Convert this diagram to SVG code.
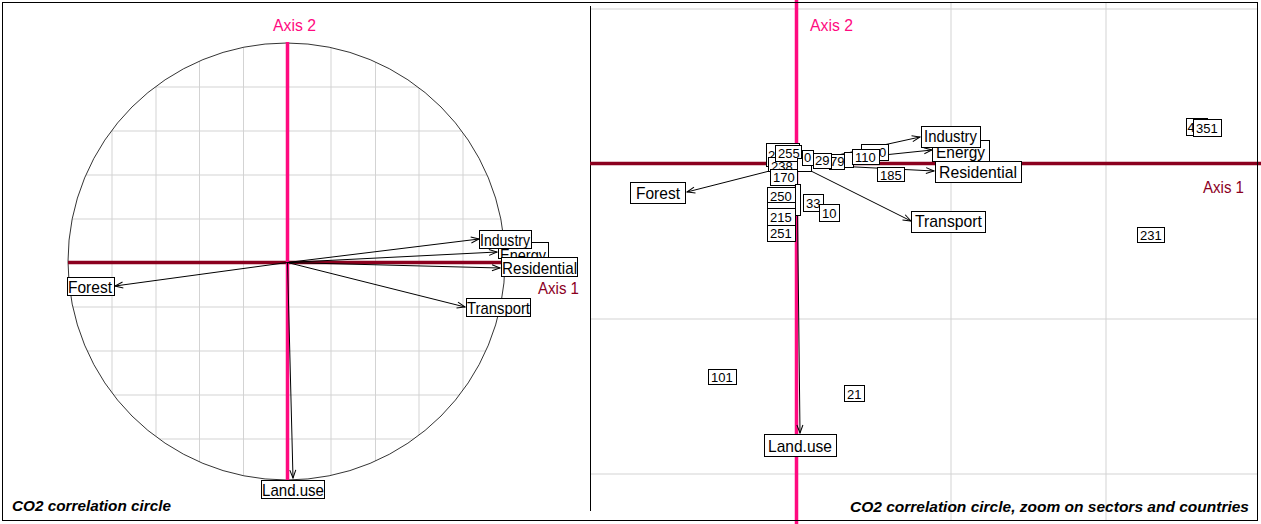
<svg xmlns="http://www.w3.org/2000/svg" width="1261" height="524" viewBox="0 0 1261 524">
<style>
.grid{stroke:#D3D3D3;stroke-width:1;fill:none}
.ax1{stroke:#8B001E;stroke-width:3.5}
.ax2{stroke:#FF0A80;stroke-width:3.5}
.arr{stroke:#000;stroke-width:1;fill:none;marker-end:url(#ah)}
.box{fill:#fff;stroke:#000;stroke-width:1}
.lab{font-family:"Liberation Sans",Arial,sans-serif;font-size:17px;fill:#000}
.num{font-family:"Liberation Sans",Arial,sans-serif;font-size:13px;fill:#000}
.t1{font-family:"Liberation Sans",Arial,sans-serif;font-size:17px;fill:#8B001E}
.t2{font-family:"Liberation Sans",Arial,sans-serif;font-size:17px;fill:#FF0A80}
.title{font-family:"Liberation Sans",Arial,sans-serif;font-size:15px;font-weight:bold;font-style:italic;fill:#000}
</style>
<defs>
<marker id="ah" markerUnits="userSpaceOnUse" markerWidth="12" markerHeight="10" refX="8" refY="3" orient="auto" overflow="visible">
<path d="M0,0 L8,3 L0,6" fill="none" stroke="#000" stroke-width="1"/>
</marker>
<clipPath id="cc"><circle cx="286.5" cy="261.5" r="218.5"/></clipPath>
</defs>
<rect x="0" y="0" width="1261" height="524" fill="#fff"/>

<!-- LEFT PANEL -->
<g id="left-grid" class="grid" clip-path="url(#cc)">
<path d="M112,0V524M156,0V524M199.5,0V524M243.5,0V524M331,0V524M375.5,0V524M419,0V524M463,0V524"/>
<path d="M0,87H600M0,131H600M0,175H600M0,219H600M0,307H600M0,351H600M0,395H600M0,439H600"/>
</g>
<circle id="left-circle" cx="286.5" cy="261.5" r="218.5" fill="none" stroke="#000" stroke-width="0.8"/>
<g id="left-axes">
<line class="ax1" x1="68" y1="262.5" x2="502" y2="262.5"/>
<line class="ax2" x1="287.5" y1="42" x2="287.5" y2="481"/>
<text class="t2" x="273" y="31" textLength="43" lengthAdjust="spacingAndGlyphs">Axis 2</text>
<text class="t1" x="538" y="294" textLength="41" lengthAdjust="spacingAndGlyphs">Axis 1</text>
</g>
<g id="left-connectors">
<line class="arr" x1="287.5" y1="262.5" x2="479" y2="239"/>
<line class="arr" x1="287.5" y1="262.5" x2="497" y2="252"/>
<line class="arr" x1="287.5" y1="262.5" x2="500" y2="268"/>
<line class="arr" x1="287.5" y1="262.5" x2="465" y2="307"/>
<line class="arr" x1="287.5" y1="262.5" x2="115" y2="286"/>
<line class="arr" x1="287.5" y1="262.5" x2="293" y2="478"/>
</g>
<g id="L-Energy"><rect class="box" x="498.5" y="242.5" width="50" height="16"/><text class="lab" x="500" y="261" textLength="46" lengthAdjust="spacingAndGlyphs">Energy</text></g>
<g id="L-Industry"><rect class="box" x="479.5" y="230.5" width="52" height="18"/><text class="lab" x="480" y="246" textLength="50" lengthAdjust="spacingAndGlyphs">Industry</text></g>
<g id="L-Residential"><rect class="box" x="501.5" y="257.5" width="76" height="19"/><text class="lab" x="502" y="274" textLength="75" lengthAdjust="spacingAndGlyphs">Residential</text></g>
<g id="L-Transport"><rect class="box" x="466.5" y="298.5" width="64" height="18"/><text class="lab" x="467" y="314" textLength="63" lengthAdjust="spacingAndGlyphs">Transport</text></g>
<g id="L-Forest"><rect class="box" x="67.5" y="277.5" width="47" height="18"/><text class="lab" x="68" y="293" textLength="44" lengthAdjust="spacingAndGlyphs">Forest</text></g>
<g id="L-Landuse"><rect class="box" x="261.5" y="480.5" width="63" height="18"/><text class="lab" x="262" y="496" textLength="62" lengthAdjust="spacingAndGlyphs">Land.use</text></g>
<text class="title" x="12" y="511" textLength="159" lengthAdjust="spacingAndGlyphs">CO2 correlation circle</text>

<!-- RIGHT PANEL -->
<g id="right-grid" class="grid">
<path d="M591,9H1257M591,319H1257M591,474H1257"/>
<path d="M951,2V520M1106,2V520"/>
</g>
<line id="right-frame" x1="590.5" y1="6" x2="590.5" y2="511" stroke="#000" stroke-width="1"/>
<g id="right-axes">
<line class="ax1" x1="590" y1="163.5" x2="1261" y2="163.5"/>
<line class="ax2" x1="796.5" y1="0" x2="796.5" y2="524"/>
<text class="t2" x="810" y="31" textLength="43" lengthAdjust="spacingAndGlyphs">Axis 2</text>
<text class="t1" x="1203" y="193" textLength="41" lengthAdjust="spacingAndGlyphs">Axis 1</text>
</g>
<g id="right-connectors">
<line class="arr" x1="797" y1="164" x2="920" y2="137"/>
<line class="arr" x1="797" y1="164" x2="932" y2="150"/>
<line class="arr" x1="797" y1="164" x2="934" y2="171"/>
<line class="arr" x1="797" y1="164" x2="911" y2="221"/>
<line class="arr" x1="797" y1="164" x2="687" y2="192"/>
<line class="arr" x1="797" y1="164" x2="800" y2="433"/>
</g>
<g id="R-points">
<g id="n2"><rect class="box" x="766.5" y="143.5" width="33" height="23"/><text class="num" x="768" y="160">2</text></g>
<g id="n238"><rect class="box" x="768.5" y="157.5" width="29" height="14"/><text class="num" x="771" y="171">238</text></g>
<g id="n255"><rect class="box" x="775.5" y="145.5" width="26" height="16"/><text class="num" x="778" y="158">255</text></g>
<g id="nsmall"><rect class="box" x="797.5" y="158.5" width="14" height="13"/></g>
<g id="n0"><rect class="box" x="802.5" y="150.5" width="11" height="15"/><text class="num" x="804" y="162">0</text></g>
<g id="n79"><rect class="box" x="829.5" y="154.5" width="15" height="15"/><text class="num" x="830" y="166">79</text></g>
<g id="n29"><rect class="box" x="813.5" y="153.5" width="18" height="15"/><text class="num" x="815" y="165">29</text></g>
<g id="nblank"><rect class="box" x="844.5" y="152.5" width="9" height="15"/></g>
<g id="n10b"><rect class="box" x="861.5" y="144.5" width="27" height="16"/><text class="num" x="879" y="157">0</text></g>
<g id="n110"><rect class="box" x="852.5" y="149.5" width="27" height="15"/><text class="num" x="855" y="162">110</text></g>
<g id="n185"><rect class="box" x="877.5" y="167.5" width="27" height="14"/><text class="num" x="880" y="180">185</text></g>
<g id="n170"><rect class="box" x="770.5" y="169.5" width="27" height="16"/><text class="num" x="773" y="182">170</text></g>
<g id="nnarrow"><rect class="box" x="795.5" y="184.5" width="5" height="31"/></g>
<g id="n250"><rect class="box" x="767.5" y="187.5" width="28" height="17"/><text class="num" x="770" y="201">250</text></g>
<g id="nhid"><rect class="box" x="767.5" y="202.5" width="28" height="10"/></g>
<g id="n215"><rect class="box" x="767.5" y="208.5" width="28" height="17"/><text class="num" x="770" y="222">215</text></g>
<g id="n251"><rect class="box" x="767.5" y="225.5" width="28" height="16"/><text class="num" x="770" y="238">251</text></g>
<g id="n33"><rect class="box" x="803.5" y="194.5" width="20" height="17"/><text class="num" x="806" y="208">33</text></g>
<g id="n10"><rect class="box" x="819.5" y="204.5" width="20" height="17"/><text class="num" x="822" y="218">10</text></g>
<g id="n4"><rect class="box" x="1186.5" y="118.5" width="21" height="17"/><text class="num" x="1187.5" y="132">4</text></g>
<g id="n351"><rect class="box" x="1193.5" y="119.5" width="28" height="17"/><text class="num" x="1196" y="133">351</text></g>
<g id="n231"><rect class="box" x="1137.5" y="227.5" width="27" height="15"/><text class="num" x="1140" y="240">231</text></g>
<g id="n101"><rect class="box" x="708.5" y="369.5" width="28" height="15"/><text class="num" x="711" y="382">101</text></g>
<g id="n21"><rect class="box" x="844.5" y="385.5" width="20" height="16"/><text class="num" x="847" y="399">21</text></g>
</g>
<g id="R-Energy"><rect class="box" x="932.5" y="140.5" width="57" height="21"/><text class="lab" x="936" y="158" textLength="49" lengthAdjust="spacingAndGlyphs">Energy</text></g>
<g id="R-Industry"><rect class="box" x="921.5" y="126.5" width="59" height="21"/><text class="lab" x="924" y="142" textLength="53" lengthAdjust="spacingAndGlyphs">Industry</text></g>
<g id="R-Residential"><rect class="box" x="935.5" y="161.5" width="86" height="21"/><text class="lab" x="939" y="178" textLength="78" lengthAdjust="spacingAndGlyphs">Residential</text></g>
<g id="R-Transport"><rect class="box" x="911.5" y="211.5" width="74" height="21"/><text class="lab" x="915" y="227" textLength="67" lengthAdjust="spacingAndGlyphs">Transport</text></g>
<g id="R-Forest"><rect class="box" x="630.5" y="182.5" width="55" height="21"/><text class="lab" x="636" y="199" textLength="44" lengthAdjust="spacingAndGlyphs">Forest</text></g>
<g id="R-Landuse"><rect class="box" x="764.5" y="434.5" width="72" height="22"/><text class="lab" x="768" y="452" textLength="64" lengthAdjust="spacingAndGlyphs">Land.use</text></g>
<text class="title" x="850" y="512" textLength="399" lengthAdjust="spacingAndGlyphs">CO2 correlation circle, zoom on sectors and countries</text>

<rect id="frame" x="2.5" y="2.5" width="1255" height="518" fill="none" stroke="#000" stroke-width="1"/>
</svg>
